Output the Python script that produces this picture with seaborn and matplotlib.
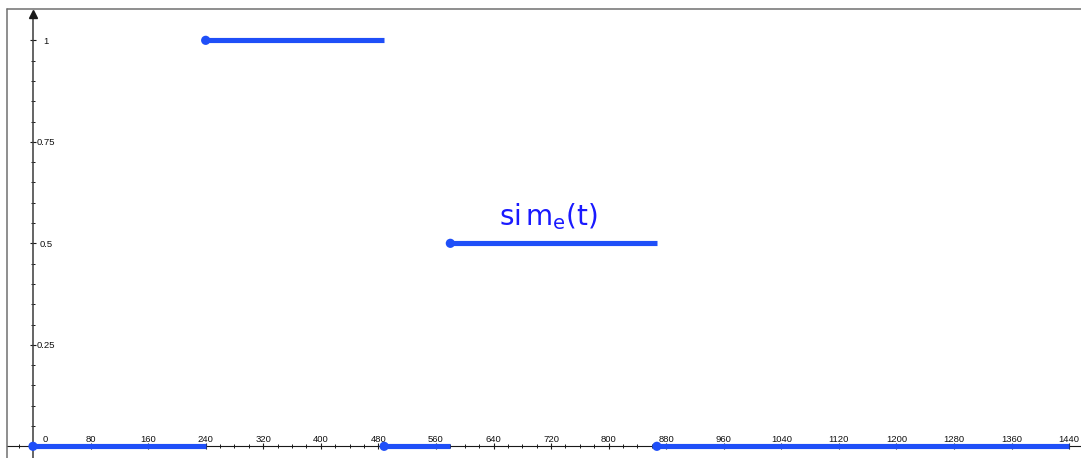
import matplotlib
matplotlib.use('Agg')
import matplotlib.pyplot as plt
import matplotlib.transforms as mtransforms
from matplotlib.lines import Line2D
from matplotlib.ticker import MultipleLocator, FixedLocator
import seaborn as sns
import pandas as pd

# ---- data ----
seg_start = [0, 240, 488, 580, 867]
seg_end = [240, 488, 580, 867, 1440]
seg_value = [0, 1, 0, 0.5, 0]

x_major = list(range(0, 1441, 80))
x_labels = [str(v) for v in x_major]
y_major = [0.25, 0.5, 0.75, 1]
y_labels = ['0.25', '0.5', '0.75', '1']
curve_label = r'$\mathregular{si\,m_e(t)}$'

# ---- style ----
sns.set_style('white')
plt.rcParams['font.family'] = ['Liberation Sans', 'DejaVu Sans']

LINE_C = '#1f4ff8'
TEXT_C = '#1a1aff'

W, H = 1081, 458
fig = plt.figure(figsize=(W / 100, H / 100), dpi=100)
ax = fig.add_axes([7 / W, 0, (W - 7) / W, (H - 8) / H])

rows = []
for i, (a, b, v) in enumerate(zip(seg_start, seg_end, seg_value)):
    rows.append({'t': a, 'v': v, 'seg': i})
    rows.append({'t': b, 'v': v, 'seg': i})
df = pd.DataFrame(rows)

sns.lineplot(data=df, x='t', y='v', units='seg', estimator=None, sort=False,
             color=LINE_C, lw=3.7, solid_capstyle='butt', legend=False, ax=ax,
             zorder=5, clip_on=False)
sns.scatterplot(x=seg_start, y=seg_value, s=44, color=LINE_C, edgecolor='none',
                legend=False, ax=ax, zorder=6, clip_on=False)

ax.set_xlim(-36.1, 1456.4)
ax.set_ylim(-0.0288, 1.0796)
ax.set_xlabel('')
ax.set_ylabel('')

# axes through origin
for s in ['top', 'right']:
    ax.spines[s].set_visible(False)
ax.spines['bottom'].set_position(('data', 0))
ax.spines['left'].set_position(('data', 0))
ax.spines['bottom'].set_color('#1a1a1a')
ax.spines['bottom'].set_linewidth(0.8)
ax.spines['left'].set_color('#3a3a3a')
ax.spines['left'].set_linewidth(1.1)
ax.spines['left'].set_bounds(-0.0288, 1.066)
ax.plot([0], [1.064], marker='^', ms=5.5, color='#1a1a1a', clip_on=False, zorder=7)

ax.set_xticks(x_major)
ax.set_xticklabels(x_labels)
ax.xaxis.set_minor_locator(MultipleLocator(20))
ax.set_yticks(y_major)
ax.set_yticklabels(y_labels)
ax.yaxis.set_minor_locator(FixedLocator([0.05 * i for i in range(1, 21) if i % 5]))

ax.tick_params(axis='both', which='both', left=True, bottom=True, top=False, right=False)
ax.tick_params(axis='both', which='major', direction='inout', length=4.3, width=0.8,
               color='#1a1a1a', labelsize=6.8, labelcolor='#111111')
ax.tick_params(axis='both', which='minor', direction='inout', length=2.9, width=0.7,
               color='#1a1a1a')
ax.tick_params(axis='x', which='major', pad=-5.4)
ax.tick_params(axis='y', which='major', pad=-11.5)

for lab in ax.get_xticklabels():
    lab.set_verticalalignment('baseline')
for lab in ax.get_yticklabels():
    lab.set_horizontalalignment('center')

# shift the "0" label right of the y axis
xl = ax.get_xticklabels()
xl[0].set_transform(xl[0].get_transform() +
                    mtransforms.ScaledTranslation(12 / 100, 0, fig.dpi_scale_trans))

ax.text(648, 0.544, curve_label, color=TEXT_C, fontsize=20, family='DejaVu Sans',
        ha='left', va='baseline')

# outer frame (left and top)
fig.add_artist(Line2D([7.5 / W, 7.5 / W], [0, (H - 8.5) / H], color='#707070', lw=1.1))
fig.add_artist(Line2D([7 / W, 1], [(H - 8.5) / H, (H - 8.5) / H], color='#707070', lw=1.1))

fig.savefig('out.png', dpi=100)
